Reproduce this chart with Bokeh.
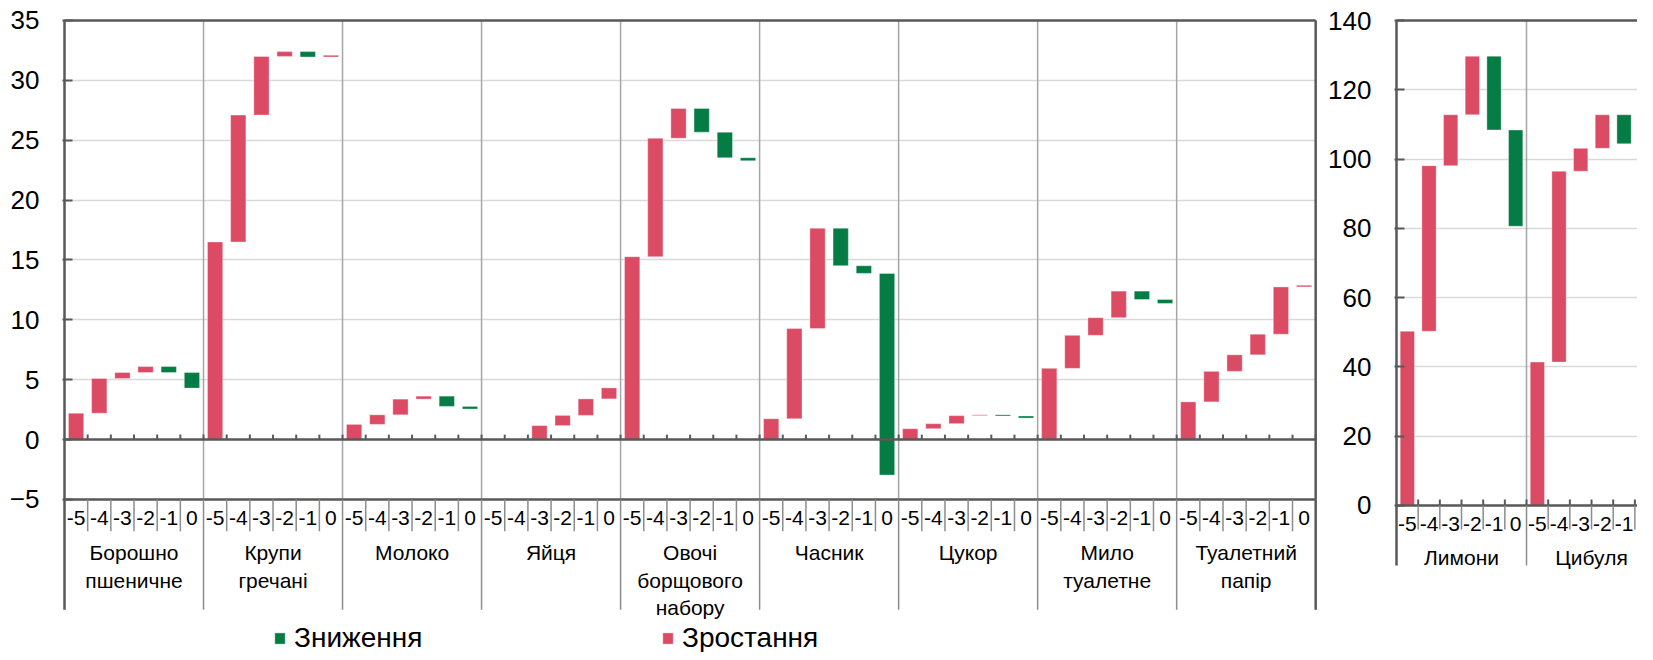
from bokeh.plotting import figure
from bokeh.models import ColumnDataSource, Range1d, FixedTicker, Legend, LegendItem
from bokeh.layouts import row
from bokeh.embed import file_html
from bokeh.resources import INLINE
from bokeh.core.properties import value

# ---------------- data ----------------
months = ["-5", "-4", "-3", "-2", "-1", "0"]

left_categories = ["Борошно\nпшеничне", "Крупи\nгречані", "Молоко", "Яйця",
                   "Овочі\nборщового\nнабору", "Часник", "Цукор",
                   "Мило\nтуалетне", "Туалетний\nпапір"]
# cumulative change at months -5 .. 0
borosh = [2.2, 5.1, 5.6, 6.1, 5.6, 4.3]
krupy = [16.5, 27.1, 32.0, 32.4, 31.95, 32.1]
moloko = [1.27, 2.07, 3.38, 3.63, 2.77, 2.55]
yaytsia = [0.0, 0.05, 1.17, 2.02, 3.4, 4.32]
ovochi = [15.27, 25.17, 27.66, 25.67, 23.54, 23.29]
chasnyk = [1.74, 9.27, 17.65, 14.52, 13.88, -2.96]
tsukor = [0.91, 1.33, 2.0, 2.07, 1.97, 1.8]
mylo = [5.95, 8.71, 10.18, 12.4, 11.7, 11.37]
papir = [3.15, 5.7, 7.08, 8.8, 12.75, 12.89]
left_series = [borosh, krupy, moloko, yaytsia, ovochi, chasnyk, tsukor, mylo, papir]

right_categories = ["Лимони", "Цибуля"]
lymony = [50.3, 98.1, 112.8, 129.7, 108.4, 80.6]
tsybulia = [41.4, 96.5, 103.1, 112.8, 104.4, 102.9]
right_series = [lymony, tsybulia]

left_ticks = [-5, 0, 5, 10, 15, 20, 25, 30, 35]
right_ticks = [0, 20, 40, 60, 80, 100, 120, 140]

legend_labels = ["Зниження", "Зростання"]

# ---------------- style ----------------
RED = "#DC4B64"
GREEN = "#067C45"
DARK = "#595959"
MID = "#8C8C8C"
LIGHT = "#A6A6A6"
GRID = "#D9D9D9"
FONT = "Liberation Sans"
NS = len(months)


def steps(series_list):
    up = dict(x=[], bottom=[], top=[])
    down = dict(x=[], bottom=[], top=[])
    for ci, vals in enumerate(series_list):
        prev = 0.0
        for j, v in enumerate(vals):
            d = up if v >= prev else down
            d["x"].append(ci * NS + j + 0.5)
            d["bottom"].append(prev)
            d["top"].append(v)
            prev = v
    return up, down


def make_panel(series_list, categories, ticks, px_unit, slot_px, frame_left_pad,
               width, height, border_left, border_top, y_low, y_high, has_bottom_frame,
               sub_off, cat_off, sub_div, cat_div, tick_up):
    ncat = len(series_list)
    nslots = ncat * NS
    frame_w = width - border_left
    frame_h = height - border_top
    x0 = -frame_left_pad / slot_px
    y_top = y_high + 2 / px_unit
    p = figure(width=width, height=height, output_backend="svg", toolbar_location=None,
               x_range=Range1d(x0, x0 + frame_w / slot_px),
               y_range=Range1d(y_top - frame_h / px_unit, y_top),
               x_axis_location=None, min_border_left=border_left, min_border_right=0,
               min_border_top=border_top, min_border_bottom=0)
    p.outline_line_color = None
    p.background_fill_color = "white"
    p.border_fill_color = "white"
    for g in p.xgrid:
        g.visible = False
    ax = p.yaxis[0]
    ax.ticker = FixedTicker(ticks=ticks)
    ax.bounds = (y_low, y_high)
    ax.axis_line_color = None
    ax.major_tick_in = 10
    ax.major_tick_out = 0
    ax.major_tick_line_color = DARK
    ax.major_tick_line_width = 2
    ax.minor_tick_line_color = None
    ax.major_label_standoff = 23
    ax.major_label_text_font = FONT
    ax.major_label_text_font_size = "26px"
    ax.major_label_text_color = "black"
    p.ygrid.grid_line_color = GRID
    p.ygrid.grid_line_width = 1.5

    up, down = steps(series_list)
    r_down = p.vbar(x="x", bottom="bottom", top="top", width=0.66,
                    source=ColumnDataSource(down), fill_color=GREEN,
                    line_color="white", line_width=0.6, line_alpha=0.6)
    r_up = p.vbar(x="x", bottom="bottom", top="top", width=0.66,
                  source=ColumnDataSource(up), fill_color=RED,
                  line_color="white", line_width=0.6, line_alpha=0.6)

    cat_edges = [c * NS for c in range(ncat + 1)]
    # light separators inside the plot
    inner = [e for e in cat_edges[1:-1]]
    p.segment(x0=inner, y0=[y_low] * len(inner), x1=inner, y1=[y_high] * len(inner),
              line_color=LIGHT, line_width=1.5)
    # frame lines
    xr_end = nslots if has_bottom_frame else x0 + frame_w / slot_px
    p.segment(x0=[0], y0=[y_high], x1=[xr_end], y1=[y_high], line_color=DARK, line_width=2.5)
    p.segment(x0=[0], y0=[y_low], x1=[0], y1=[y_high], line_color=DARK, line_width=2.5)
    if has_bottom_frame:
        p.segment(x0=[0], y0=[y_low], x1=[nslots], y1=[y_low], line_color=DARK, line_width=2.5)
        p.segment(x0=[nslots], y0=[y_low], x1=[nslots], y1=[y_high], line_color=DARK, line_width=2.5)
    # zero axis line and ticks
    p.segment(x0=[0], y0=[0], x1=[xr_end], y1=[0], line_color=DARK, line_width=2.5)
    tk = list(range(1, int(xr_end) + 1))
    p.segment(x0=tk, y0=[0] * len(tk), x1=tk, y1=[tick_up / px_unit] * len(tk),
              line_color=DARK, line_width=2)
    # category label area
    sub_x = [k for k in range(1, nslots) if k % NS != 0]
    p.segment(x0=sub_x, y0=[y_low] * len(sub_x), x1=sub_x,
              y1=[y_low - sub_div / px_unit] * len(sub_x), line_color=MID, line_width=1.5)
    cat_cols = [DARK if (e == 0 or e == nslots) else MID for e in cat_edges]
    p.segment(x0=cat_edges, y0=[y_low] * len(cat_edges), x1=cat_edges,
              y1=[y_low - cat_div / px_unit] * len(cat_edges), line_color=cat_cols,
              line_width=[2.5 if c == DARK else 1.5 for c in cat_cols])
    sx = [c * NS + j + 0.5 for c in range(ncat) for j in range(NS)]
    p.text(x=sx, y=[y_low - sub_off / px_unit] * len(sx), text=months * ncat,
           text_font=value(FONT), text_font_size="21px", text_align="center",
           text_baseline="middle", text_color="black")
    cx = [c * NS + NS / 2 for c in range(ncat)]
    p.text(x=cx, y=[y_low - cat_off / px_unit] * ncat, text=categories,
           text_font=value(FONT), text_font_size="21px", text_align="center",
           text_baseline="top", text_line_height=1.2, text_color="black")
    return p, r_down, r_up


# left panel: 12.05 px per unit, 23.17 px per slot
p1, rd, ru = make_panel(left_series, left_categories, left_ticks, 12.05, 23.17, 2,
                        1317, 652, 62, 14, -5, 35, True,
                        19, 42, 32, 111, 5)
# right panel: 3.464 px per unit, 21.67 px per slot
p2, _, _ = make_panel(right_series, right_categories, right_ticks, 3.464, 21.67, 2,
                      320, 652, 77, 18, 0, 140, False,
                      18.5, 41, 24, 60, 6)

for lbl, rend, loc in [(legend_labels[0], rd, (211, -2)), (legend_labels[1], ru, (599, -2))]:
    lg = Legend(items=[LegendItem(label=lbl, renderers=[rend])], location=loc,
                orientation="horizontal", padding=0, margin=0, border_line_color=None,
                background_fill_alpha=0, glyph_width=13, glyph_height=14,
                label_standoff=8, label_height=30, label_text_font=FONT,
                label_text_font_size="28px", label_text_color="black")
    p1.add_layout(lg)

layout = row(p1, p2)
open("out.html", "w").write(file_html(layout, INLINE))
